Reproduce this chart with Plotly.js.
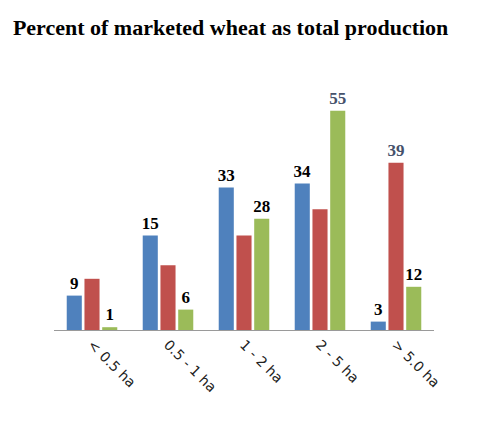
<!DOCTYPE html>
<html>
<head>
<meta charset="utf-8">
<script src="https://cdn.plot.ly/plotly-3.0.1.min.js"></script>
<style>html,body{margin:0;padding:0;background:#fff;}#chart{width:477px;height:423px;}</style>
</head>
<body>
<div id="chart"></div>
<script>
var categories = ["< 0.5 ha", "0.5 - 1 ha", "1 - 2 ha", "2 - 5 ha", "> 5.0 ha"];
// bar heights as drawn in the picture
var blueValues = [8.6, 23.6, 35.6, 36.6, 2.1];
var redValues = [12.8, 16.2, 23.6, 30.2, 41.8];
var greenValues = [0.7, 5.1, 27.8, 54.8, 10.8];
// data labels as printed
var blueLabels = ["9", "15", "33", "34", "3"];
var redLabels = ["", "", "", "", "39"];
var greenLabels = ["1", "6", "28", "55", "12"];

var serif = "Liberation Serif, Times New Roman, serif";
function lf(colors){ return {family: serif, size: 17, color: colors, weight: "bold"}; }

var common = {type: "bar", x: categories, textposition: "outside", constraintext: "none", cliponaxis: false, hoverinfo: "none"};
var traces = [
  Object.assign({}, common, {y: blueValues, text: blueLabels,
   textfont: lf(["#000","#000","#000","#000","#000"]), marker: {color: "#4F81BD"}}),
  Object.assign({}, common, {y: redValues, text: redLabels,
   textfont: lf(["#000","#000","#000","#000","#45516b"]), marker: {color: "#C0504D"}}),
  Object.assign({}, common, {y: greenValues, text: greenLabels,
   textfont: lf(["#000","#000","#000","#45516b","#000"]), marker: {color: "#9BBB59"}})
];

var layout = {
  width: 477, height: 423,
  margin: {l: 54, r: 43, t: 80, b: 93},
  paper_bgcolor: "#fff", plot_bgcolor: "#fff",
  showlegend: false,
  barmode: "group", bargap: 0.3, bargroupgap: 0.15,
  title: {text: "Percent of marketed wheat as total production", x: 0.027, xanchor: "left", y: 0.935, yanchor: "middle",
          font: {family: serif, size: 22, color: "#000", weight: "bold"}},
  xaxis: {showline: true, linecolor: "#9a9a9a", linewidth: 1, ticks: "", tickangle: 45,
          tickfont: {family: "DejaVu Sans, sans-serif", size: 14, color: "#222"}, showgrid: false, zeroline: false},
  yaxis: {range: [0, 62.5], visible: false, showgrid: false, zeroline: false}
};

Plotly.newPlot("chart", traces, layout, {staticPlot: true, displayModeBar: false});
</script>
</body>
</html>
